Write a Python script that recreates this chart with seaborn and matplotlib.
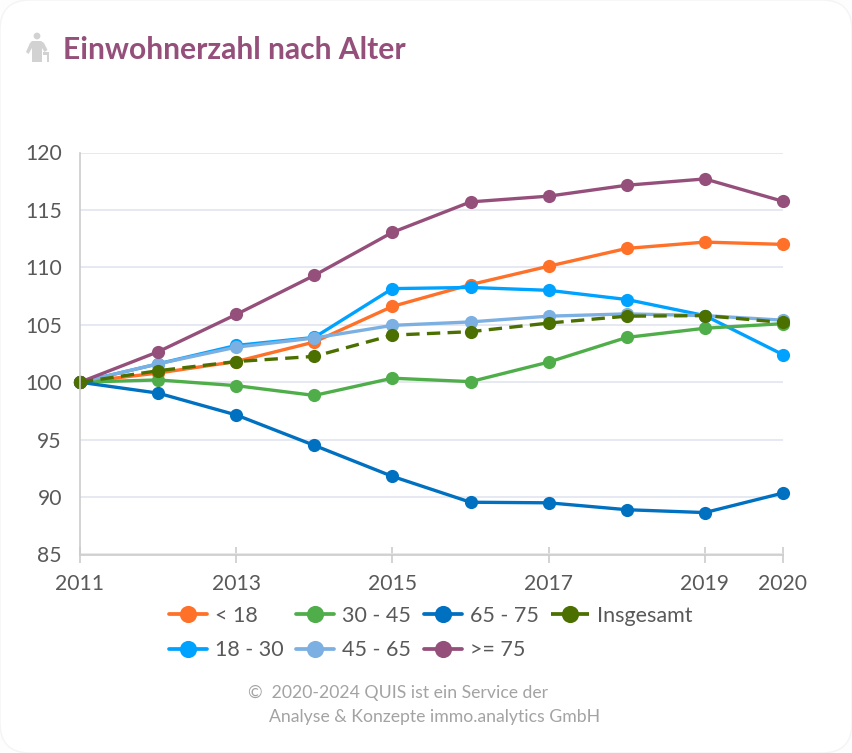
import matplotlib
matplotlib.use("Agg")
import matplotlib.pyplot as plt
from matplotlib.patches import FancyBboxPatch, Circle, Polygon
import seaborn as sns
import pandas as pd

years = [2011, 2012, 2013, 2014, 2015, 2016, 2017, 2018, 2019, 2020]
u18 = [100, 100.8, 101.8, 103.5, 106.6, 108.5, 110.1, 111.65, 112.2, 112.0]
a18_30 = [100, 101.6, 103.2, 103.9, 108.15, 108.25, 108.0, 107.2, 105.8, 102.4]
a30_45 = [100, 100.2, 99.7, 98.85, 100.35, 100.05, 101.75, 103.9, 104.7, 105.1]
a45_65 = [100, 101.6, 103.05, 103.85, 104.95, 105.25, 105.75, 105.95, 105.8, 105.4]
a65_75 = [100, 99.05, 97.15, 94.5, 91.8, 89.55, 89.5, 88.9, 88.65, 90.35]
o75 = [100, 102.65, 105.9, 109.3, 113.05, 115.7, 116.2, 117.15, 117.7, 115.75]
total = [100, 101.0, 101.8, 102.25, 104.1, 104.4, 105.15, 105.75, 105.8, 105.2]

names = ["< 18", "18 - 30", "30 - 45", "45 - 65", "65 - 75", ">= 75", "Insgesamt"]
series = [u18, a18_30, a30_45, a45_65, a65_75, o75, total]
colors = ["#ff7028", "#00a2ff", "#4fae4a", "#7cb0e2", "#0070c0", "#954f7b", "#4b7000"]
y_ticks = [85, 90, 95, 100, 105, 110, 115, 120]
x_ticks = [2011, 2013, 2015, 2017, 2019, 2020]
title = "Einwohnerzahl nach Alter"
foot1 = "©  2020-2024 QUIS ist ein Service der"
foot2 = "Analyse & Konzepte immo.analytics GmbH"

sns.set_theme(style="white")
plt.rcParams["font.family"] = ["Lato", "DejaVu Sans"]

W, H = 852, 753
fig = plt.figure(figsize=(W / 100, H / 100), dpi=100, facecolor="#fdfdfd")
bg = fig.add_axes([0, 0, 1, 1], zorder=0)
bg.set_xlim(0, W)
bg.set_ylim(H, 0)
bg.axis("off")
bg.add_patch(FancyBboxPatch((0, 0), W, H, boxstyle="round,pad=0,rounding_size=30",
                            fc="white", ec="#f4f4f4", lw=1))
# person icon
ic = "#d2d2d2"
bg.add_patch(Circle((37, 36), 3.4, fc=ic, ec="none"))
bg.add_patch(Polygon([(32, 41), (41, 41), (44, 43), (47.5, 50), (44.5, 52), (42, 48), (42, 62),
                      (32, 62), (32, 48), (28.5, 54), (26, 52), (30, 43)], fc=ic, ec="none"))
bg.add_patch(Polygon([(43, 52), (49, 52), (49, 62), (46.5, 62), (46.5, 55), (43, 55)],
                     fc=ic, ec="none"))
bg.text(63, 49.5, title, fontsize=21.6, color="#954f7b", fontweight="bold",
        va="center", ha="left")
bg.text(248, 693, foot1, fontsize=12.7, color="#a3a3a3", va="center", ha="left")
bg.text(269, 717, foot2, fontsize=12.7, color="#a3a3a3", va="center", ha="left")

ax = fig.add_axes([80 / W, 1 - 554.5 / H, (783 - 80) / W, (554.5 - 152.5) / H], zorder=1)
ax.patch.set_alpha(0)
df = pd.DataFrame({"Jahr": years, **dict(zip(names, series))})
for name, c in zip(names, colors):
    dashed = name == "Insgesamt"
    sns.lineplot(data=df, x="Jahr", y=name, ax=ax, color=c, lw=2.4, marker="o", ms=9.5,
                 mec=c, mew=0, label=name, clip_on=False, errorbar=None,
                 linestyle=(0, (4, 2.2)) if dashed else "-")
ax.set_xlim(2011, 2020)
ax.set_ylim(85, 120)
ax.set_xticks(x_ticks)
ax.set_yticks(y_ticks)
ax.set_xlabel("")
ax.set_ylabel("")
ax.grid(axis="y", color="#e2e4f0", lw=1.2)
ax.set_axisbelow(True)
for s in ["top", "right"]:
    ax.spines[s].set_visible(False)
for s in ["left", "bottom"]:
    ax.spines[s].set_color("#cccccc")
    ax.spines[s].set_linewidth(1.2)
ax.tick_params(axis="x", direction="inout", length=11, width=1.2, color="#cccccc",
               labelsize=15.2, labelcolor="#595959", pad=8.5, bottom=True)
ax.tick_params(axis="y", length=0, labelsize=15.2, labelcolor="#595959", pad=13)
leg = ax.legend(ncol=4, loc="upper left", bbox_to_anchor=((169 - 80) / (783 - 80), -51 / 402),
                frameon=False, fontsize=15.5, labelcolor="#595959", handlelength=1.77,
                handletextpad=0.37, columnspacing=0.58, labelspacing=0.68, borderaxespad=0,
                borderpad=0, markerscale=1.3)
for line in leg.get_lines():
    line.set_linewidth(2.7)
fig.savefig("out.png", dpi=100, facecolor=fig.get_facecolor())
